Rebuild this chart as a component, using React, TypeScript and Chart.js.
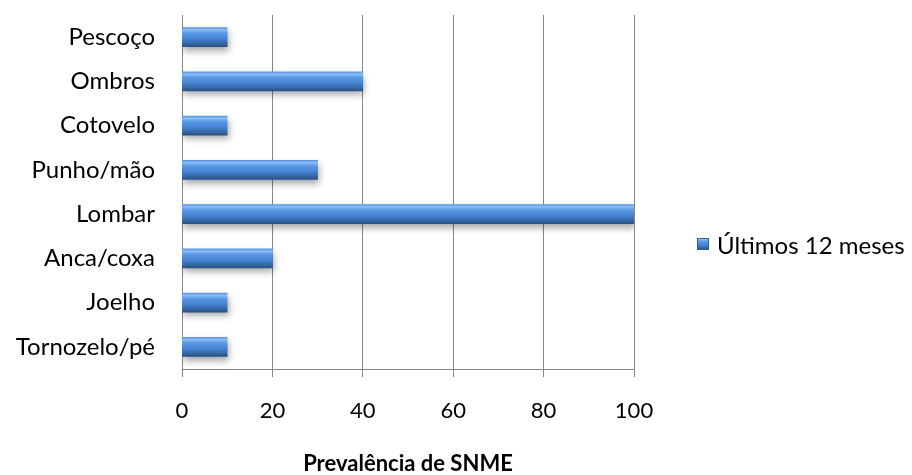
import React, { useEffect, useRef } from "react";
import { Chart, registerables } from "chart.js";

Chart.register(...registerables);

const categories = ["Pescoço", "Ombros", "Cotovelo", "Punho/mão", "Lombar", "Anca/coxa", "Joelho", "Tornozelo/pé"];
const values = [10, 40, 10, 30, 100, 20, 10, 10];
const seriesName = "Últimos 12 meses";
const axisTitle = "Prevalência de SNME";
const xTicks = [0, 20, 40, 60, 80, 100];

const FONT = "Lato, 'Open Sans', sans-serif";

function barGradient(ctx: CanvasRenderingContext2D, y0: number, y1: number) {
  const g = ctx.createLinearGradient(0, y0, 0, y1);
  g.addColorStop(0, "#5a96e2");
  g.addColorStop(0.12, "#8dbef6");
  g.addColorStop(0.28, "#5c9ae6");
  g.addColorStop(0.6, "#4482d3");
  g.addColorStop(0.82, "#3669a6");
  g.addColorStop(1, "#2a5189");
  return g;
}

export default function App() {
  const ref = useRef<HTMLCanvasElement | null>(null);
  useEffect(() => {
    const canvas = ref.current!;
    const BAR = 19;
    const shadowPlugin = {
      id: "shadow",
      beforeDatasetDraw(chart: any) {
        const c = chart.ctx;
        c.save();
        c.shadowColor = "rgba(0,0,0,0.35)";
        c.shadowBlur = 7;
        c.shadowOffsetX = 1;
        c.shadowOffsetY = 4;
      },
      afterDatasetDraw(chart: any) {
        chart.ctx.restore();
      },
    };
    const legendPlugin = {
      id: "customLegend",
      afterDraw(chart: any) {
        const c = chart.ctx as CanvasRenderingContext2D;
        c.save();
        const bx = 697, by = 238, bs = 12;
        c.fillStyle = barGradient(c, by, by + bs);
        c.fillRect(bx, by, bs, bs);
        c.strokeStyle = "#2f5d95";
        c.lineWidth = 1;
        c.strokeRect(bx + 0.5, by + 0.5, bs - 1, bs - 1);
        c.fillStyle = "#000";
        c.font = `24px ${FONT}`;
        c.textBaseline = "middle";
        c.textAlign = "left";
        c.fillText(seriesName, 717, 246);
        c.restore();
      },
    };
    const chart = new Chart(canvas, {
      type: "bar",
      data: {
        labels: categories,
        datasets: [
          {
            label: seriesName,
            data: values,
            barThickness: BAR,
            borderWidth: 0,
            backgroundColor: (context: any) => {
              const ch = context.chart;
              const ys = ch.scales?.y;
              if (!ys || context.dataIndex === undefined) return "#4a86d4";
              const yc = ys.getPixelForValue(context.dataIndex);
              if (!Number.isFinite(yc)) return "#4a86d4";
              return barGradient(ch.ctx, yc - BAR / 2, yc + BAR / 2);
            },
          },
        ],
      },
      options: {
        indexAxis: "y",
        animation: false,
        responsive: false,
        maintainAspectRatio: false,
        layout: { padding: { top: 15, right: 278, bottom: 0, left: 0 } },
        plugins: {
          legend: { display: false },
          tooltip: { enabled: false },
        },
        scales: {
          x: {
            min: 0,
            max: 100,
            afterBuildTicks: (scale: any) => {
              scale.ticks = xTicks.map((v) => ({ value: v }));
            },
            afterFit: (scale: any) => {
              scale.height = 106;
              scale.paddingLeft = 0;
              scale.paddingRight = 0;
            },
            grid: { color: "#868686", lineWidth: 1, tickLength: 8, drawTicks: true },
            border: { display: true, color: "#868686", width: 1 },
            ticks: {
              color: "#000",
              font: { family: FONT, size: 22 },
              padding: 21,
              maxRotation: 0,
            },
            title: {
              display: true,
              text: axisTitle,
              color: "#000",
              font: { family: FONT, size: 22, weight: "bold", lineHeight: 1 },
              padding: { top: 0, bottom: 0 },
            },
          },
          y: {
            afterFit: (scale: any) => {
              scale.width = 182;
              scale.paddingTop = 0;
              scale.paddingBottom = 0;
            },
            grid: { display: false, drawTicks: false },
            border: { display: true, color: "#868686", width: 1 },
            ticks: {
              color: "#000",
              font: { family: FONT, size: 24 },
              padding: 27,
            },
          },
        },
      },
      plugins: [shadowPlugin, legendPlugin],
    } as any);
    return () => chart.destroy();
  }, []);
  return (
    <div style={{ position: "fixed", left: 0, top: 0, width: 912, height: 475, background: "#fff" }}>
      <canvas ref={ref} width={912} height={475} />
    </div>
  );
}
